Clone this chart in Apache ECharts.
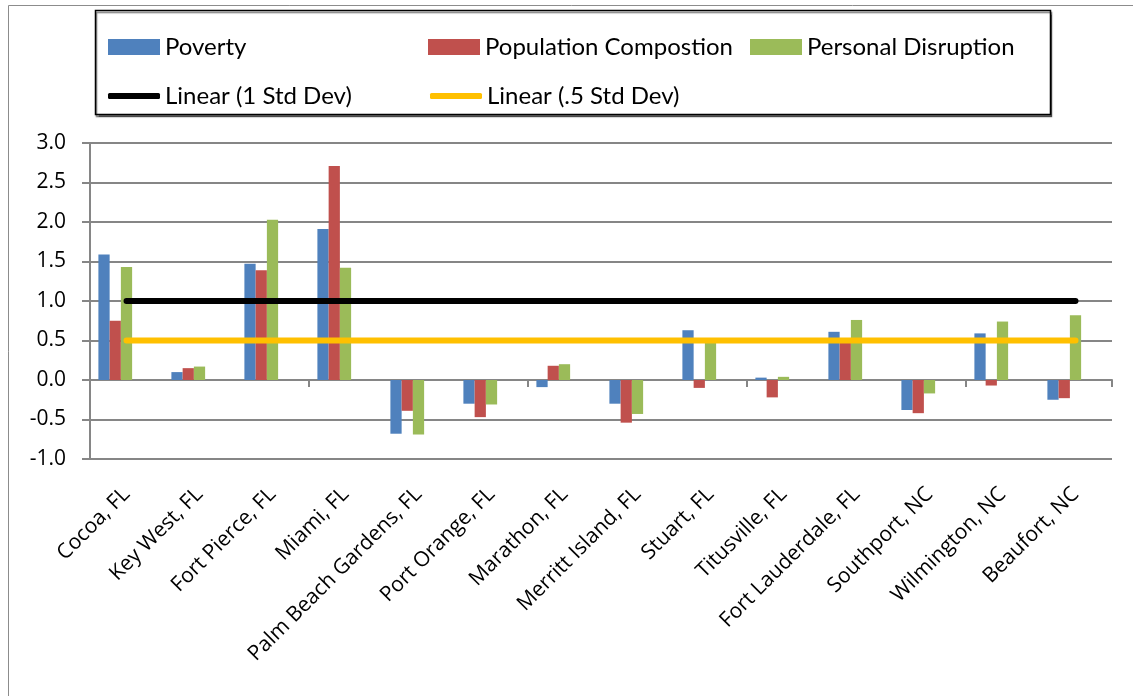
<!DOCTYPE html>
<html><head><meta charset="utf-8">
<script src="https://cdn.jsdelivr.net/npm/echarts@6/dist/echarts.min.js"></script>
<style>html,body{margin:0;padding:0;background:#fff}#c{width:1133px;height:696px}</style>
</head><body><div id="c"></div>
<script>
var categories = ["Cocoa, FL","Key West, FL","Fort Pierce, FL","Miami, FL","Palm Beach Gardens, FL","Port Orange, FL","Marathon, FL","Merritt Island, FL","Stuart, FL","Titusville, FL","Fort Lauderdale, FL","Southport, NC","Wilmington, NC","Beaufort, NC"];
var poverty = [1.59,0.10,1.47,1.91,-0.68,-0.30,-0.09,-0.30,0.63,0.03,0.61,-0.38,0.59,-0.25];
var population = [0.75,0.15,1.39,2.71,-0.39,-0.47,0.18,-0.54,-0.10,-0.22,0.52,-0.42,-0.07,-0.23];
var personal = [1.43,0.17,2.03,1.42,-0.69,-0.31,0.20,-0.43,0.49,0.04,0.76,-0.17,0.74,0.82];
var stdDev1 = [1,1,1,1,1,1,1,1,1,1,1,1,1,1];
var stdDev05 = [0.5,0.5,0.5,0.5,0.5,0.5,0.5,0.5,0.5,0.5,0.5,0.5,0.5,0.5];
var yTicks = {min:-1, max:3, interval:0.5};

var AXFONT = 'Open Sans';
var LGFONT = 'Lato';
var chart = echarts.init(document.getElementById('c'), null, {renderer:'canvas'});
function lg(name, left, top, isLine){
  return {data:[name], left:left, top:top, itemWidth:52, itemHeight:isLine?6:16, itemGap:5,
    icon: isLine ? 'roundRect' : 'rect',
    textStyle:{fontFamily:LGFONT, fontSize:24, color:'#000'}, selectedMode:false};
}
chart.setOption({
  animation:false,
  graphic:[
    {type:'rect', shape:{x:8.5,y:5.5,width:1140,height:700}, style:{fill:'none', stroke:'#8c8c8c', lineWidth:1}, z:-10},
    {type:'rect', shape:{x:95.5,y:10.5,width:955,height:104}, style:{fill:'#fff', stroke:'#000', lineWidth:1.5, shadowColor:'rgba(0,0,0,0.5)', shadowOffsetX:1, shadowOffsetY:2, shadowBlur:1}, z:-5}
  ],
  legend:[
    lg('Poverty',103,30,false), lg('Population Compostion',423,30,false), lg('Personal Disruption',745,30,false),
    lg('Linear (1 Std Dev)',103,79,true), lg('Linear (.5 Std Dev)',425,79,true)
  ],
  grid:{left:90, right:21, top:143, bottom:237, containLabel:false},
  xAxis:[
    {type:'category', data:categories, position:'bottom',
     axisLine:{show:false, onZero:false}, axisTick:{show:false},
     axisLabel:{rotate:45, interval:0, margin:32, fontFamily:AXFONT, fontSize:21, color:'#000'}},
    {type:'category', data:categories, position:'bottom',
     axisLine:{show:true, onZero:true, lineStyle:{color:'#868686', width:2}},
     axisTick:{show:true, inside:false, length:7, lineStyle:{color:'#868686', width:2}},
     axisLabel:{show:false}}
  ],
  yAxis:{type:'value', min:yTicks.min, max:yTicks.max, interval:yTicks.interval,
    axisLine:{show:true, lineStyle:{color:'#868686', width:2}},
    axisTick:{show:true, length:8, lineStyle:{color:'#868686', width:2}},
    splitLine:{show:true, lineStyle:{color:'#868686', width:2}},
    axisLabel:{formatter:function(v){return v.toFixed(1);}, fontFamily:AXFONT, fontSize:21, color:'#000', margin:24}},
  series:[
    {name:'Poverty', type:'bar', data:poverty, barGap:'0%', barCategoryGap:'23%', itemStyle:{color:'#4F81BD'}},
    {name:'Population Compostion', type:'bar', data:population, itemStyle:{color:'#C0504D'}},
    {name:'Personal Disruption', type:'bar', data:personal, itemStyle:{color:'#9BBB59'}},
    {name:'1 Std Dev', type:'bar', data:stdDev1, silent:true, itemStyle:{color:'rgba(0,0,0,0)'}},
    {name:'.5 Std Dev', type:'bar', data:stdDev05, silent:true, itemStyle:{color:'rgba(0,0,0,0)'}},
    {name:'Linear (1 Std Dev)', type:'line', data:stdDev1, symbol:'none', z:5,
     lineStyle:{color:'#000', width:6, cap:'round'}, itemStyle:{color:'#000'}},
    {name:'Linear (.5 Std Dev)', type:'line', data:stdDev05, symbol:'none', z:5,
     lineStyle:{color:'#FFC000', width:6, cap:'round'}, itemStyle:{color:'#FFC000'}}
  ]
});
</script></body></html>
